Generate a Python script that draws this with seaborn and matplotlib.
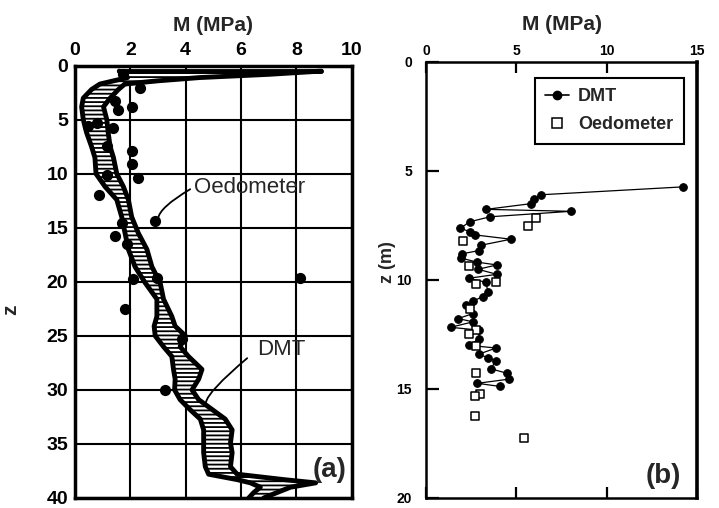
import numpy as np
import pandas as pd
import seaborn as sns
import matplotlib.pyplot as plt
from matplotlib.lines import Line2D

# (a) DMT band: depth and left/right edge of the hatched envelope
band_z = [0.5, 0.8, 1.1, 1.4, 1.7, 2.2, 3.0, 3.8, 5.0, 6.2, 7.5, 8.5, 10.0, 11.2,
          12.4, 14.0, 15.5, 17.0, 18.6, 20.1, 21.6, 23.2, 24.1, 25.0, 26.0, 26.9,
          28.1, 29.0, 30.0, 30.9, 31.8, 32.7, 33.7, 34.9, 35.8, 37.1, 37.8, 38.3,
          38.6, 39.0, 39.5, 40.0]
band_lo = [1.6, 1.8, 1.9, 1.4, 0.9, 0.6, 0.3, 0.24, 0.3, 0.42, 0.6, 0.72, 0.76, 1.09,
           1.51, 1.69, 1.81, 1.93, 2.17, 2.54, 2.96, 2.96, 2.86, 2.9, 3.2, 3.5,
           3.56, 3.62, 3.6, 3.8, 4.15, 4.53, 4.65, 4.65, 4.65, 4.71, 4.83, 5.86,
           6.34, 6.7, 6.46, 6.28]
band_hi = [8.9, 7.0, 4.5, 3.0, 1.8, 1.57, 1.27, 1.03, 1.15, 1.2, 1.27, 1.39, 1.51, 1.75,
           1.93, 2.05, 2.29, 2.6, 2.78, 3.08, 3.2, 3.5, 3.62, 3.99, 3.8, 4.1,
           4.59, 4.47, 4.23, 4.47, 4.95, 5.43, 5.68, 5.62, 5.68, 5.62, 5.86, 7.55,
           8.7, 7.79, 7.3, 6.82]

# (a) oedometer points
oed_a_M = [1.73, 2.36, 1.45, 2.05, 1.57, 0.79, 0.48, 1.39, 1.15, 2.05, 2.05, 1.15,
           2.29, 0.85, 2.9, 1.69, 1.45, 1.87, 2.11, 2.96, 8.15, 1.81, 3.87, 3.26]
oed_a_z = [0.77, 2.08, 3.3, 3.84, 4.08, 5.3, 5.6, 5.77, 7.46, 7.92, 9.06, 10.07,
           10.38, 12.0, 14.38, 14.53, 15.8, 16.5, 19.75, 19.6, 19.6, 22.5, 25.3, 30.0]

# (b) DMT profile
dmt_b_M = [14.2, 6.39, 6.0, 5.8, 3.33, 8.02, 3.55, 2.42, 1.9, 2.42, 2.69, 4.7, 3.02,
           2.93, 2.0, 1.96, 2.82, 3.92, 2.88, 3.92, 2.38, 3.33, 3.42, 3.15, 2.6, 2.2,
           2.6, 1.78, 2.6, 1.36, 2.93, 2.93, 2.38, 3.88, 2.93, 3.42, 3.88, 3.57,
           4.49, 4.58, 2.84, 4.07]
dmt_b_z = [5.73, 6.09, 6.28, 6.5, 6.76, 6.85, 7.1, 7.33, 7.63, 7.78, 7.93, 8.13, 8.41,
           8.65, 8.8, 9.0, 9.18, 9.31, 9.51, 9.74, 9.92, 10.11, 10.57, 10.76, 10.97,
           11.17, 11.54, 11.77, 11.92, 12.17, 12.3, 12.7, 13.0, 13.12, 13.4, 13.57,
           13.72, 14.07, 14.28, 14.55, 14.74, 14.88]

# (b) oedometer points
oed_b_M = [6.08, 5.62, 2.05, 2.36, 3.88, 2.75, 2.45, 2.78, 2.36, 2.75, 2.75, 2.97,
           2.69, 2.73, 5.44]
oed_b_z = [7.15, 7.51, 8.2, 9.36, 10.11, 10.19, 11.32, 12.3, 12.48, 13.05, 14.28,
           15.23, 15.3, 16.24, 17.23]

sns.set_theme(style='ticks')
plt.rcParams['font.family'] = ['Liberation Sans', 'DejaVu Sans']
plt.rcParams['font.weight'] = 'bold'
plt.rcParams['hatch.linewidth'] = 1.3
plt.rcParams['xtick.color'] = 'black'
plt.rcParams['ytick.color'] = 'black'
plt.rcParams['xtick.direction'] = 'in'
plt.rcParams['ytick.direction'] = 'in'

fig = plt.figure(figsize=(7.19, 5.08), dpi=100)
ax1 = fig.add_axes([0.1043, 0.0197, 0.3848, 0.851])
ax2 = fig.add_axes([0.5925, 0.0197, 0.3769, 0.8583])

# ---- panel (a)
ax1.set_axisbelow(True)
ax1.grid(True, color='black', linewidth=1.5)
ax1.fill_betweenx(band_z, band_lo, band_hi, facecolor='white', edgecolor='black',
                  hatch='----', linewidth=0, zorder=2)
band = pd.DataFrame({'z': band_z, 'lo': band_lo, 'hi': band_hi})
for col in ['lo', 'hi']:
    sns.lineplot(data=band, x=col, y='z', sort=False, estimator=None, color='black',
                 linewidth=3.5, ax=ax1, zorder=3)
sns.lineplot(x=[band_lo[0], band_hi[0]], y=[band_z[0], band_z[0]], sort=False,
             estimator=None, color='black', linewidth=3.5, ax=ax1, zorder=3)
sns.scatterplot(x=oed_a_M, y=oed_a_z, color='black', s=65, marker='o',
                edgecolor='black', linewidth=0, ax=ax1, zorder=4)

ax1.set_xlim(0, 10)
ax1.set_ylim(40, 0)
ax1.set_xticks(np.arange(0, 11, 2))
ax1.set_yticks(np.arange(0, 41, 5))
ax1.xaxis.tick_top()
ax1.xaxis.set_label_position('top')
ax1.tick_params(length=0, labelsize=14, pad=5)
for s in ax1.spines.values():
    s.set_visible(True)
    s.set_linewidth(2.5)
    s.set_color('black')
ax1.set_xlabel('M (MPa)', fontsize=15, fontweight='bold', labelpad=8)
ax1.set_ylabel('z', fontsize=15, fontweight='bold')
ax1.yaxis.set_label_coords(-0.2, 0.435)

ax1.text(4.3, 11.3, 'Oedometer', fontsize=16, fontweight='normal', va='center')
ax1.annotate('', xy=(3.0, 14.4), xytext=(4.25, 11.3),
             arrowprops=dict(arrowstyle='-', color='black', lw=1.3,
                             connectionstyle='angle3,angleA=-150,angleB=-80'))
ax1.text(6.6, 26.3, 'DMT', fontsize=16, fontweight='normal', va='center')
ax1.annotate('', xy=(4.75, 31.4), xytext=(6.3, 26.9),
             arrowprops=dict(arrowstyle='-', color='black', lw=1.3,
                             connectionstyle='angle3,angleA=-140,angleB=-60'))
ax1.text(9.8, 37.4, '(a)', fontsize=20, fontweight='bold', ha='right', va='center')

# ---- panel (b)
sns.lineplot(x=dmt_b_M, y=dmt_b_z, sort=False, estimator=None, color='black',
             linewidth=0.9, marker='o', markersize=5.5, markeredgecolor='black', ax=ax2)
sns.scatterplot(x=oed_b_M, y=oed_b_z, marker='s', s=30, facecolor='white',
                edgecolor='black', linewidth=1.1, ax=ax2, zorder=3)

ax2.set_xlim(0, 15)
ax2.set_ylim(20, 0)
ax2.set_xticks([0, 5, 10, 15])
ax2.set_yticks([0, 5, 10, 15, 20])
ax2.xaxis.tick_top()
ax2.xaxis.set_label_position('top')
ax2.tick_params(axis='x', which='major', top=True, bottom=True, direction='in',
                length=8, width=1.6, labelsize=10, pad=3)
ax2.tick_params(axis='y', which='major', left=True, right=False, direction='in',
                length=9, width=1.6, labelsize=10, pad=10)
for s in ax2.spines.values():
    s.set_visible(True)
    s.set_linewidth(1.8)
    s.set_color('black')
ax2.spines['right'].set_linewidth(2.6)
ax2.set_xlabel('M (MPa)', fontsize=15, fontweight='bold', labelpad=10)
ax2.set_ylabel('z (m)', fontsize=13, fontweight='bold')
ax2.yaxis.set_label_coords(-0.11, 0.54)

handles = [Line2D([], [], color='black', marker='o', markersize=6, linewidth=1.2),
           Line2D([], [], color='black', marker='s', markersize=7, linestyle='none',
                  markerfacecolor='white', markeredgewidth=1.1)]
leg = ax2.legend(handles, ['DMT', 'Oedometer'], loc='upper right',
                 bbox_to_anchor=(0.985, 0.985), prop={'size': 13, 'weight': 'bold'},
                 frameon=True, fancybox=False, edgecolor='black', framealpha=1,
                 handlelength=1.3, handletextpad=0.5, borderpad=0.6, labelspacing=0.6)
leg.get_frame().set_linewidth(1.5)
ax2.text(14.1, 19.0, '(b)', fontsize=20, fontweight='bold', ha='right', va='center')

fig.savefig('out.png', dpi=100)
